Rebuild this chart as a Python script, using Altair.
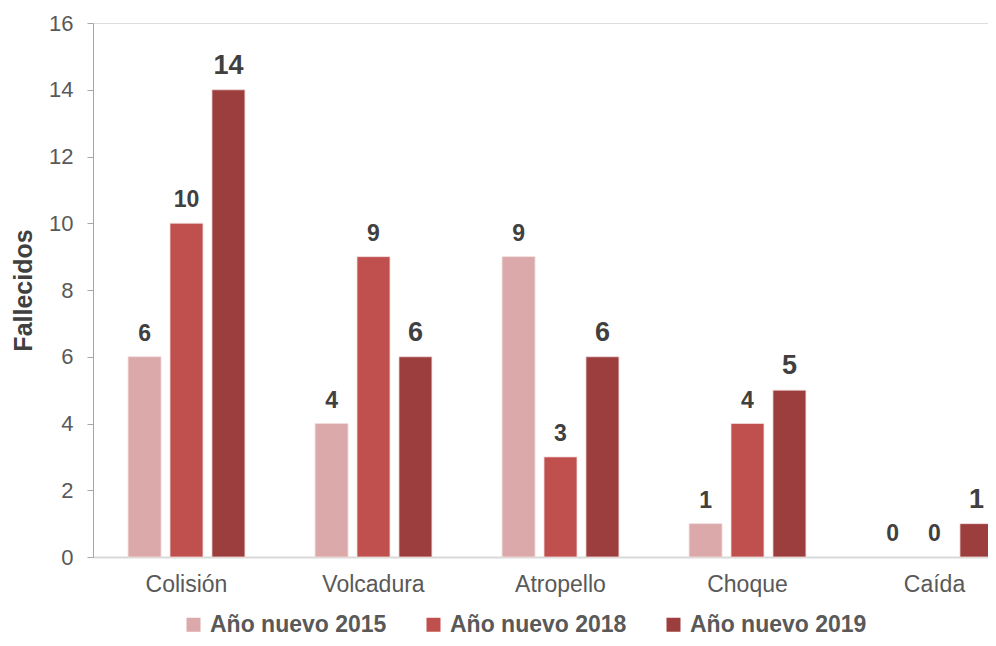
import altair as alt
import pandas as pd

categorias = ["Colisión", "Volcadura", "Atropello", "Choque", "Caída"]
series = ["Año nuevo 2015", "Año nuevo 2018", "Año nuevo 2019"]
v2015 = [6, 4, 9, 1, 0]
v2018 = [10, 9, 3, 4, 0]
v2019 = [14, 6, 6, 5, 1]
colores = ["#DBA9A9", "#C0504D", "#9C3E3E"]
y_ticks = [0, 2, 4, 6, 8, 10, 12, 14, 16]

rows = []
for s, vals in zip(series, [v2015, v2018, v2019]):
    for c, v in zip(categorias, vals):
        rows.append({"categoria": c, "serie": s, "valor": v})
df = pd.DataFrame(rows)

FONT = "Liberation Sans"

x = alt.X("categoria:N", sort=categorias,
          scale=alt.Scale(range=[0, 935], paddingInner=0.375, paddingOuter=0.1875),
          axis=alt.Axis(title=None, labelAngle=0, ticks=False, labelFontSize=23,
                        labelColor="#595959", labelFont=FONT, labelPadding=16,
                        domainColor="#D9D9D9", domainWidth=2))
xo = alt.XOffset("serie:N", sort=series,
                 scale=alt.Scale(paddingInner=0.214, paddingOuter=0))
y = alt.Y("valor:Q", scale=alt.Scale(domain=[0, 16], nice=False),
          axis=alt.Axis(title="Fallecidos", values=y_ticks, grid=False,
                        tickSize=6, tickColor="#A6A6A6", domainColor="#A6A6A6",
                        labelFontSize=22, labelColor="#595959", labelFont=FONT,
                        labelPadding=14, titleFontSize=25, titleFont=FONT,
                        titleFontWeight="bold", titleColor="#404040",
                        titleX=-70, titleY=267, titleAngle=-90,
                        titleBaseline="middle", titleAlign="center"))

bars = alt.Chart(df).mark_bar(stroke="#F2DCDC").encode(
    x=x, xOffset=xo, y=y,
    strokeWidth=alt.condition(alt.datum.valor > 0, alt.value(0.8), alt.value(0)),
    color=alt.Color("serie:N", sort=series,
                    scale=alt.Scale(domain=series, range=colores),
                    legend=alt.Legend(title=None, orient="none", legendX=89,
                                      legendY=590, direction="horizontal",
                                      symbolType="square", symbolSize=196,
                                      symbolStrokeWidth=0, labelFontSize=23,
                                      labelFontWeight="bold", labelColor="#595959",
                                      labelFont=FONT, labelOffset=5, labelLimit=0,
                                      columnPadding=35)),
)

labels = alt.Chart(df).mark_text(font=FONT, fontWeight="bold", color="#404040",
                                 baseline="alphabetic", dy=-16).encode(
    x=alt.X("categoria:N", sort=categorias),
    xOffset=alt.XOffset("serie:N", sort=series),
    y="valor:Q",
    text="valor:Q",
    size=alt.condition(alt.datum.serie == "Año nuevo 2019", alt.value(27), alt.value(23)),
)

chart = (bars + labels).properties(
    width=895, height=534,
    autosize=alt.AutoSizeParams(type="none"),
    padding={"left": 85, "top": 15, "right": 0, "bottom": 81},
).configure_view(stroke=None).configure(background="white")

chart.save("out.html", embed_options={"renderer": "svg", "actions": False})
